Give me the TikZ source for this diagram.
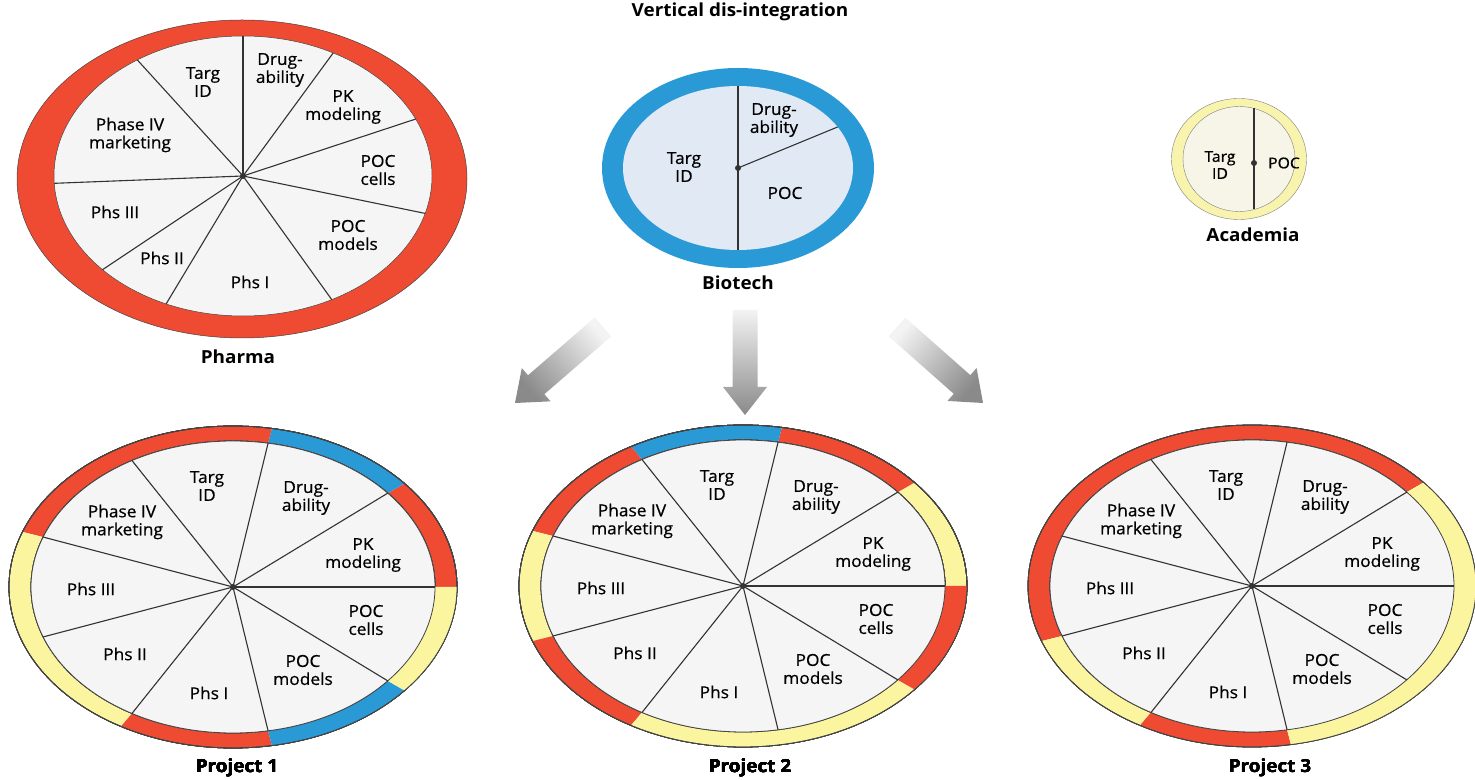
\documentclass[tikz,border=0pt]{standalone}
\usepackage{fontspec}
\setmainfont[FakeStretch=1.05, UprightFeatures={FakeBold=0.6}]{Open Sans}
\usetikzlibrary{calc}
\definecolor{ringred}{HTML}{EF4A32}
\definecolor{ringblue}{HTML}{2A9AD6}
\definecolor{ringyellow}{HTML}{FBF5A0}
\definecolor{acadyellow}{HTML}{F8F3AD}
\definecolor{fillgray}{HTML}{F5F5F5}
\definecolor{fillblue}{HTML}{E1EAF4}
\definecolor{fillcream}{HTML}{F7F4E8}
\definecolor{spokegray}{HTML}{333333}
\definecolor{rimgray}{HTML}{444444}
\definecolor{arrowgray}{HTML}{8A8A8A}
\tikzset{
	lbl/.style={font=\fontsize{16.5}{18}\selectfont, align=center, inner sep=0pt},
	ttl/.style={font=\fontsize{18}{20}\selectfont\bfseries, inner sep=0pt},
	spoke/.style={draw=spokegray, line width=1.1pt},
	rim/.style={draw=rimgray, line width=0.8pt},
}
% one coloured piece of a project ring
\newcommand\ringpart[3]{%
	\fill[#3] (#1:224pt and 161pt) arc[start angle=#1, end angle=#2, x radius=224pt, y radius=161pt]
		-- (#2:202pt and 146pt) arc[start angle=#2, end angle=#1, x radius=202pt, y radius=146pt] -- cycle;}
% the nine stage labels of a project
\newcommand\stagelabels[1]{%
	\foreach \n/\x/\y/\t in {targ/-26/101/{Targ\\ID}, drug/73/89/{Drug-\\ability}, pk/130/32/{PK\\modeling},
		cells/133/-33/{POC\\cells}, models/70/-83/{POC\\models}, one/-24/-106/{Phs I},
		two/-108/-67/{Phs II}, three/-142/-2/{Phs III}, four/-111/65/{Phase IV\\marketing}}
		\node[lbl] (#1\n) at (\x,\y) {\t};}
\newcommand\projectwheel{%
	\fill[fillgray] (0,0) ellipse[x radius=202pt, y radius=146pt];
	\draw[rim] (0,0) ellipse[x radius=224pt, y radius=161pt];
	\draw[rim] (0,0) ellipse[x radius=202pt, y radius=146pt];
	\foreach \a in {-200,-160,...,120}
		\draw[spoke] (0,0) -- (\a:202pt and 146pt);
	\fill[spokegray] (0,0) circle (3pt);}
\begin{document}
\begin{tikzpicture}[x=1pt, y=1pt]
	\useasboundingbox (0,0) rectangle (1475,779);
	\node[ttl] (title) at (740,767) {Vertical dis-integration};

	% Pharma
	\begin{scope}[shift={(243,603)}]
		\fill[ringred] (-1,-3) ellipse[x radius=225pt, y radius=159pt];
		\fill[fillgray] (0,0) ellipse[x radius=189pt, y radius=140pt];
		\draw[rim, line width=0.5pt] (-1,-3) ellipse[x radius=225pt, y radius=159pt];
		\draw[rim, line width=0.5pt] (0,0) ellipse[x radius=189pt, y radius=140pt];
		\foreach \a in {90,61.5,24,-15.5,-62,-114,-138,-177,124}
			\draw[spoke] (0,0) -- (\a:189pt and 140pt);
		\fill[spokegray] (0,0) circle (3pt);
		\node[lbl] (phtarg) at (-40,94) {Targ\\ID};
		\node[lbl] (phdrug) at (37,106) {Drug-\\ability};
		\node[lbl] (phpk) at (100,69) {PK\\modeling};
		\node[lbl] (phcells) at (135,6) {POC\\cells};
		\node[lbl] (phmodels) at (105,-59) {POC\\models};
		\node[lbl] (phone) at (7,-106) {Phs I};
		\node[lbl] (phtwo) at (-81,-82) {Phs II};
		\node[lbl] (phthree) at (-128,-36) {Phs III};
		\node[lbl] (phfour) at (-113,41) {Phase IV\\marketing};
		\node[ttl] (pharma) at (-5,-181) {Pharma};
	\end{scope}

	% Biotech
	\begin{scope}[shift={(738,611)}]
		\fill[ringblue] (0,0) ellipse[x radius=136pt, y radius=100pt];
		\fill[fillblue] (0,0) ellipse[x radius=115pt, y radius=82pt];
		\draw[spoke] (90:115pt and 82pt) -- (270:115pt and 82pt);
		\draw[spoke] (0,0) -- (30:115pt and 82pt);
		\fill[spokegray] (0,0) circle (3pt);
		\node[lbl] (bttarg) at (-54,1) {Targ\\ID};
		\node[lbl] (btdrug) at (36,48) {Drug-\\ability};
		\node[lbl] (btpoc) at (47,-25) {POC};
		\node[ttl] (biotech) at (0,-115) {Biotech};
	\end{scope}

	% Academia
	\begin{scope}[shift={(1239,620)}]
		\fill[acadyellow] (0,0) ellipse[x radius=67.5pt, y radius=60.5pt];
		\fill[fillcream] (0,0) ellipse[x radius=56pt, y radius=52.5pt];
		\draw[rim, line width=0.4pt, draw=gray] (0,0) ellipse[x radius=67.5pt, y radius=60.5pt];
		\draw[rim, line width=0.4pt, draw=gray] (0,0) ellipse[x radius=56pt, y radius=52.5pt];
		\draw[spoke] (15,50.5) -- (15,-50.5);
		\fill[spokegray] (15,-4) circle (3pt);
		\node[lbl, font=\fontsize{15}{17}\selectfont] (actarg) at (-19,-6) {Targ\\ID};
		\node[lbl, font=\fontsize{15}{17}\selectfont] (acpoc) at (45,-4) {POC};
		\node[ttl] (academia) at (14,-76) {Academia};
	\end{scope}

	% shaded arrows
	\coordinate (t1) at (603,452);
	\coordinate (h1) at (515,376);
	\coordinate (t2) at (745,469);
	\coordinate (h2) at (745,364);
	\coordinate (t3) at (897,452);
	\coordinate (h3) at (983,376);
	\foreach \i/\ang in {1/-49, 2/0, 3/49} {
		\coordinate (b) at ($(h\i)!28pt!(t\i)$);
		\shade[top color=arrowgray!10, middle color=arrowgray!75, bottom color=arrowgray, shading angle=\ang]
			($(t\i)!12.5pt!90:(h\i)$) -- ($(b)!12.5pt!90:(h\i)$) -- ($(b)!22pt!90:(h\i)$) -- (h\i)
			-- ($(b)!22pt!-90:(h\i)$) -- ($(b)!12.5pt!-90:(h\i)$) -- ($(t\i)!12.5pt!-90:(h\i)$) -- cycle;
	}

	% Project 1
	\begin{scope}[shift={(233,192)}]
		\foreach \s/\e/\c in {0/40/ringred, 40/80/ringblue, 80/160/ringred, 160/240/ringyellow,
			240/280/ringred, 280/320/ringblue, 320/360/ringyellow}
			\ringpart{\s}{\e}{\c}
		\projectwheel
		\stagelabels{pa}
		\node[ttl] (project1) at (4,-181) {Project 1};
	\end{scope}

	% Project 2
	\begin{scope}[shift={(743,193)}]
		\foreach \s/\e/\c in {0/40/ringyellow, 40/80/ringred, 80/120/ringblue, 120/160/ringred,
			160/200/ringyellow, 200/240/ringred, 240/320/ringyellow, 320/360/ringred}
			\ringpart{\s}{\e}{\c}
		\projectwheel
		\stagelabels{pb}
		\node[ttl] (project2) at (7,-182) {Project 2};
	\end{scope}

	% Project 3
	\begin{scope}[shift={(1252,193)}]
		\foreach \s/\e/\c in {40/200/ringred, 200/240/ringyellow, 240/280/ringred, 280/400/ringyellow}
			\ringpart{\s}{\e}{\c}
		\projectwheel
		\stagelabels{pc}
		\node[ttl] (project3) at (18,-182) {Project 3};
	\end{scope}
\end{tikzpicture}
\end{document}
